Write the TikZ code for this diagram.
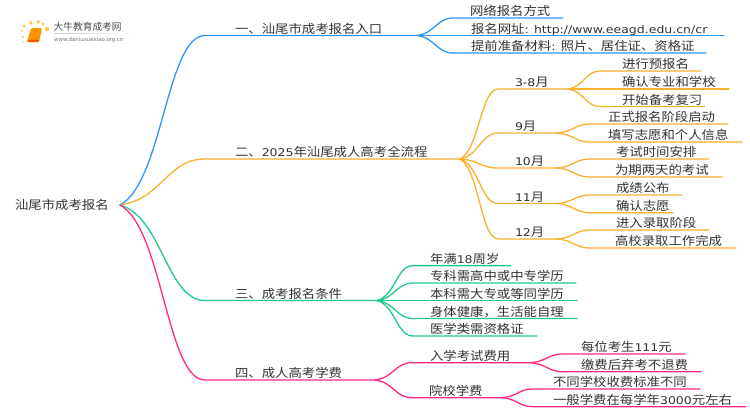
\documentclass[tikz,border=0pt]{standalone}
\usepackage{fontspec}
\setmainfont{Noto Sans CJK SC}[FakeStretch=1.115]
\newfontfamily\latf{DejaVu Sans}[FakeStretch=1.18]
\newfontfamily\logof{Noto Sans CJK SC}
\newfontfamily\webf{DejaVu Sans}
\newcommand\lat[1]{{\latf\fontsize{10.6}{12}\selectfont #1}}
\usetikzlibrary{calc,shadings}
\definecolor{cblue}{HTML}{2E94FF}
\definecolor{corange}{HTML}{FBB02D}
\definecolor{cgreen}{HTML}{1FCB8C}
\definecolor{cpink}{HTML}{FF2A85}
\definecolor{ctext}{HTML}{333333}
\tikzset{
  lbl/.style={anchor=base west,inner sep=0pt,outer sep=0pt,text=ctext,font=\fontsize{12}{14}\selectfont},
  conn/.style={line width=1.3pt,line cap=round,line join=round},
}
% #1 colour, #2 parent, #3 name, #4 knee x, #5 y, #6 end x, #7 text x, #8 text
\newcommand\topic[8]{%
  \coordinate (#3k) at (#4,#5);
  \coordinate (#3e) at (#6,#5);
  \node[lbl] (#3) at (#7,#5-2.5) {#8};
  \draw[conn,#1] let \p1=(#2),\p2=(#3k),\n1={\x2-\x1},\n2={\y2-\y1} in
    (#2) .. controls (\x1+0.5*\n1,\y1+0.13*\n2) and (\x2-0.45*\n1,\y2) .. (#3k) -- (#3e);
}
\begin{document}
\begin{tikzpicture}[x=1pt,y=-1pt]
\useasboundingbox (0,0) rectangle (750,410);
\fill[white] (0,0) rectangle (750,410);
% logo
\foreach \p/\r in {(24,26)/1.6,(31,23)/1.9,(38,22)/1.9,(43,24)/1.7,(47,29)/2.2,(22,31)/1.2,(23,37)/1.1,(23,42)/0.9}{
  \fill[orange!55!yellow,opacity=.75] \p circle (\r);
}
\fill[orange!85!yellow,rounded corners=1.5pt] (31,28) -- (42,28) -- (39,42) -- (27,42) -- cycle;
\fill[orange!70!red,rounded corners=1pt] (27,42) -- (39,42) -- (39.5,39.5) -- (28,39.5) -- cycle;
\node[anchor=base west,inner sep=0pt,text=black!70] (logoa) at (53.5,30.5) {\logof\fontsize{9.7}{11}\selectfont 大牛教育成考网};
\node[anchor=base west,inner sep=0pt,text=black!55] (logob) at (54,41) {\webf\fontsize{5.4}{6}\selectfont www.daniuxuexiao.org.cn};
\shade[left color=black!22,right color=white] (54,33) rectangle (133,33.7);
% root
\coordinate (rootp) at (120,205);
\node[lbl] (root) at (15,209.5) {汕尾市成考报名};
% branch 1
\topic{cblue}{rootp}{A}{205}{35.5}{417}{235}{一、汕尾市成考报名入口}
\topic{cblue}{Ae}{Aa}{453}{18}{563}{470}{网络报名方式}
\topic{cblue}{Ae}{Ab}{453}{35.5}{724}{471}{报名网址\lat{: http://www.eeagd.edu.cn/cr}}
\topic{cblue}{Ae}{Ac}{453}{53}{706}{471}{提前准备材料\lat{: }照片、居住证、资格证}
% branch 2
\topic{corange}{rootp}{B}{205}{159}{460}{235}{二、\lat{2025}年汕尾成人高考全流程}
\topic{corange}{Be}{Ba}{498}{89}{568}{515}{\lat{3-8}月}
\topic{corange}{Bae}{Baa}{600}{71}{701}{622}{进行预报名}
\topic{corange}{Bae}{Bab}{600}{89}{729}{622}{确认专业和学校}
\topic{corange}{Bae}{Bac}{600}{106.5}{705}{622}{开始备考复习}
\topic{corange}{Be}{Bb}{498}{133}{557}{515}{\lat{9}月}
\topic{corange}{Bbe}{Bba}{590}{124}{728}{608}{正式报名阶段启动}
\topic{corange}{Bbe}{Bbb}{590}{142}{742}{608}{填写志愿和个人信息}
\topic{corange}{Be}{Bc}{498}{168}{557}{515}{\lat{10}月}
\topic{corange}{Bce}{Bca}{590}{159}{709}{616}{考试时间安排}
\topic{corange}{Bce}{Bcb}{590}{177}{722}{615}{为期两天的考试}
\topic{corange}{Be}{Bd}{498}{203.5}{557}{515}{\lat{11}月}
\topic{corange}{Bde}{Bda}{590}{195}{682}{616}{成绩公布}
\topic{corange}{Bde}{Bdb}{590}{212.7}{673}{616}{确认志愿}
\topic{corange}{Be}{Bf}{498}{239}{557}{515}{\lat{12}月}
\topic{corange}{Bfe}{Bfa}{590}{230}{709}{616}{进入录取阶段}
\topic{corange}{Bfe}{Bfb}{590}{248}{736}{615}{高校录取工作完成}
% branch 3
\topic{cgreen}{rootp}{C}{205}{300.5}{377}{235}{三、成考报名条件}
\topic{cgreen}{Ce}{Ca}{413}{265.6}{511}{430}{年满\lat{18}周岁}
\topic{cgreen}{Ce}{Cb}{413}{283}{576}{430}{专科需高中或中专学历}
\topic{cgreen}{Ce}{Cc}{413}{300.5}{577}{430}{本科需大专或等同学历}
\topic{cgreen}{Ce}{Cd}{413}{318.5}{577}{430}{身体健康，生活能自理}
\topic{cgreen}{Ce}{Cf}{413}{336}{537}{430}{医学类需资格证}
% branch 4
\topic{cpink}{rootp}{D}{205}{380}{375}{235}{四、成人高考学费}
\topic{cpink}{De}{Da}{412}{362.7}{530}{430}{入学考试费用}
\topic{cpink}{Dae}{Daa}{563}{354}{685}{581}{每位考生\lat{111}元}
\topic{cpink}{Dae}{Dab}{563}{371.7}{701}{581}{缴费后弃考不退费}
\topic{cpink}{De}{Db}{412}{397.7}{501.7}{429}{院校学费}
\topic{cpink}{Dbe}{Dba}{533}{389}{700}{553}{不同学校收费标准不同}
\topic{cpink}{Dbe}{Dbb}{533}{406.7}{746}{553}{一般学费在每学年\lat{3000}元左右}
\end{tikzpicture}
\end{document}
